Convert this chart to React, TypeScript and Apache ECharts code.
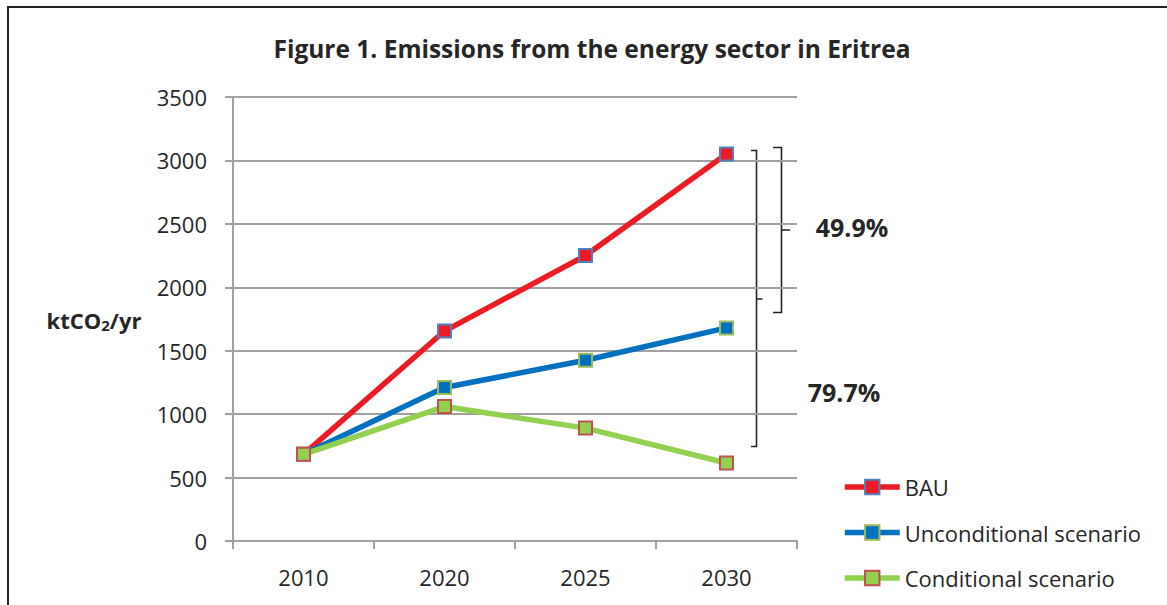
import React, { useEffect, useRef } from "react";
import * as echarts from "echarts";

const years = ["2010", "2020", "2025", "2030"];
const bau = [683, 1655, 2250, 3050];
const unconditional = [683, 1210, 1425, 1680];
const conditional = [683, 1060, 890, 615];
const yTicks = { min: 0, max: 3500, interval: 500 };

const FONT = "'Open Sans', 'Noto Sans', sans-serif";
const TXT = "#262626";

export default function App() {
  const ref = useRef<HTMLDivElement>(null);
  useEffect(() => {
    if (!ref.current) return;
    const chart = echarts.init(ref.current, null, { renderer: "svg" });
    const mk = (name: string, data: number[], line: string, fill: string, border: string) => ({
      name,
      type: "line",
      data,
      symbol: "rect",
      symbolSize: 13,
      lineStyle: { color: line, width: 5.5 },
      itemStyle: { color: fill, borderColor: border, borderWidth: 2 },
      z: 3,
    });
    chart.setOption({
      animation: false,
      backgroundColor: "#ffffff",
      textStyle: { fontFamily: FONT },
      title: {
        text: "Figure 1. Emissions from the energy sector in Eritrea",
        left: 587,
        top: 31,
        textAlign: "center",
        textStyle: { fontFamily: FONT, fontSize: 24.5, fontWeight: "bold", color: TXT },
      },
      grid: { left: 233, right: 370, top: 97, bottom: 64 },
      xAxis: {
        type: "category",
        data: years,
        boundaryGap: true,
        axisLine: { show: true, lineStyle: { color: "#a0a0a0", width: 2 } },
        axisTick: { show: true, length: 8, lineStyle: { color: "#a0a0a0", width: 2 } },
        axisLabel: { color: TXT, fontSize: 22, margin: 25, fontFamily: FONT },
      },
      yAxis: {
        type: "value",
        min: yTicks.min,
        max: yTicks.max,
        interval: yTicks.interval,
        axisLine: { show: true, lineStyle: { color: "#a0a0a0", width: 2 } },
        axisTick: { show: true, length: 8, lineStyle: { color: "#a0a0a0", width: 2 } },
        axisLabel: { color: TXT, fontSize: 22, margin: 26, fontFamily: FONT, formatter: (v: number) => String(v) },
        splitLine: { show: true, lineStyle: { color: "#a0a0a0", width: 2 } },
      },
      legend: {
        orient: "vertical",
        left: 842,
        top: 476,
        padding: 0,
        itemWidth: 55,
        itemHeight: 18,
        itemGap: 23.5,
        lineStyle: { width: 5.5 },
        textStyle: { color: TXT, fontSize: 22, fontFamily: FONT },
        data: ["BAU", "Unconditional scenario", "Conditional scenario"],
      },
      series: [
        mk("BAU", bau, "#ed1c24", "#ed1c24", "#4f81bd"),
        mk("Unconditional scenario", unconditional, "#0070c0", "#0070c0", "#9bbb59"),
        mk("Conditional scenario", conditional, "#92d050", "#92d050", "#c0504d"),
      ],
      graphic: [
        {
          type: "rect",
          shape: { x: 8, y: 7, width: 1200, height: 700 },
          style: { fill: "none", stroke: "#222", lineWidth: 2 },
          silent: true,
        },
        {
          type: "polyline",
          shape: { points: [[751, 150.5], [756.5, 150.5], [756.5, 299], [762.5, 299], [756.5, 299], [756.5, 446.5], [751, 446.5]] },
          style: { fill: "none", stroke: "#222", lineWidth: 1.6 },
        },
        {
          type: "polyline",
          shape: { points: [[773, 147.5], [781.5, 147.5], [781.5, 230], [790, 230], [781.5, 230], [781.5, 312.5], [773, 312.5]] },
          style: { fill: "none", stroke: "#222", lineWidth: 1.6 },
        },
        {
          type: "text",
          x: 852,
          y: 227,
          style: { text: "49.9%", fontFamily: FONT, fontSize: 25, fontWeight: "bold", fill: TXT, align: "center", verticalAlign: "middle" },
        },
        {
          type: "text",
          x: 844,
          y: 392,
          style: { text: "79.7%", fontFamily: FONT, fontSize: 25, fontWeight: "bold", fill: TXT, align: "center", verticalAlign: "middle" },
        },
        {
          type: "text",
          x: 94,
          y: 320,
          style: {
            text: "{a|ktCO}{b|2}{a|/yr}",
            align: "center",
            verticalAlign: "middle",
            rich: {
              a: { fontFamily: FONT, fontSize: 22, fontWeight: "bold", fill: TXT, color: TXT },
              b: { fontFamily: FONT, fontSize: 15, fontWeight: "bold", fill: TXT, color: TXT, padding: [10, 0, 0, 0] },
            },
          },
        },
      ],
    });
    return () => chart.dispose();
  }, []);
  return <div ref={ref} style={{ position: "fixed", left: 0, top: 0, width: 1167, height: 605 }} />;
}
